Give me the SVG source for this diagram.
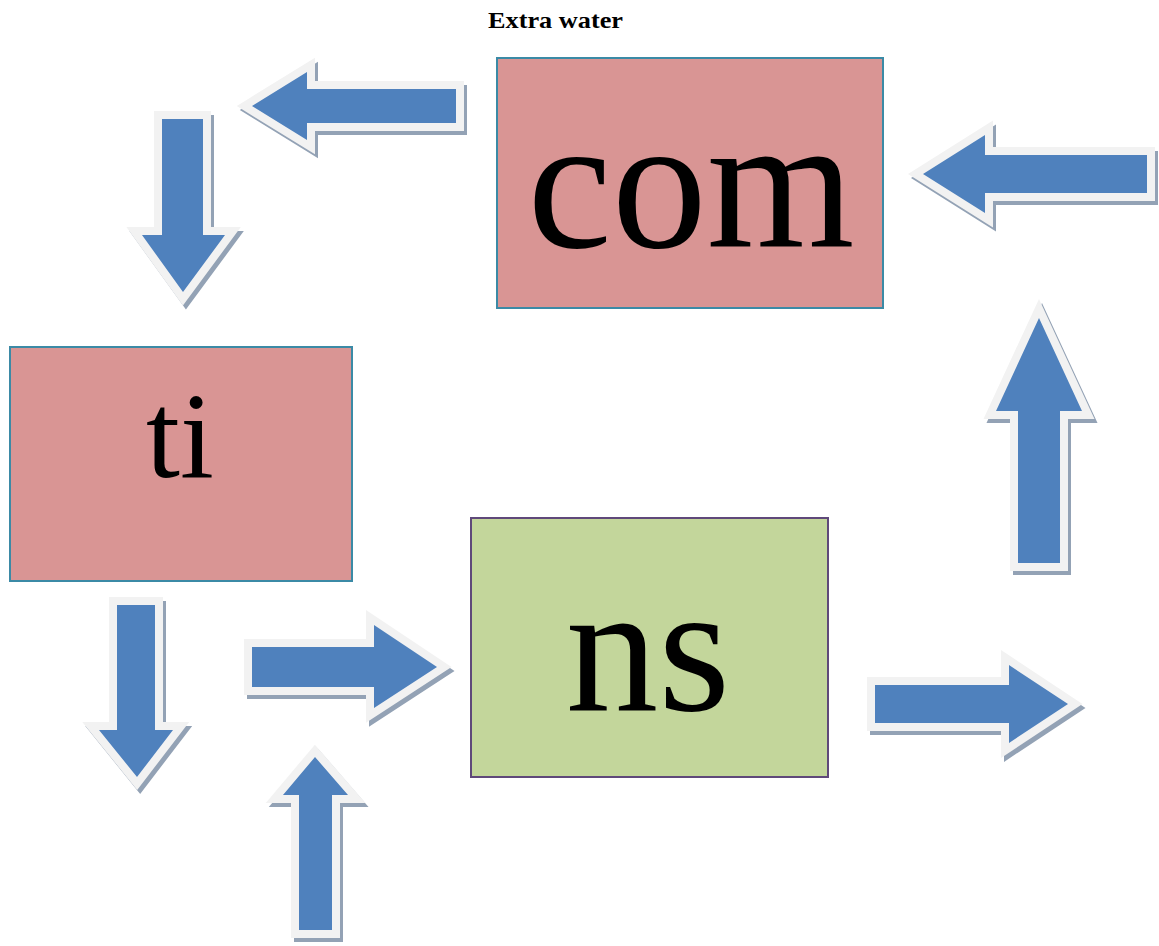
<svg xmlns="http://www.w3.org/2000/svg" width="1159" height="946" viewBox="0 0 1159 946">
<style>
.box-red{fill:#d99594;stroke:#3b8aa6;stroke-width:2}
.box-green{fill:#c3d69b;stroke:#5f497a;stroke-width:2}
.lbl{font-family:"Liberation Serif","Times New Roman",serif;fill:#000;text-anchor:middle}
.title{font-family:"Liberation Serif","Times New Roman",serif;font-weight:bold;font-size:23px;fill:#000}
.arr{fill:#4f81bd;stroke:#f2f2f2;stroke-width:16;paint-order:stroke;stroke-linejoin:miter;stroke-miterlimit:4}
.shd{fill:#93a2b5;stroke:#93a2b5;stroke-width:16;stroke-linejoin:miter;stroke-miterlimit:4}
</style>
<rect width="1159" height="946" fill="#fff"/>
<text class="title" x="488" y="28" textLength="135" lengthAdjust="spacingAndGlyphs">Extra water</text>
<g id="connectors">
  <g id="a1">
    <polygon class="shd" transform="translate(3,4)" points="252,106 307,72 307,89 456,89 456,123 307,123 307,140"/>
    <polygon class="arr" points="252,106 307,72 307,89 456,89 456,123 307,123 307,140"/>
  </g>
  <g id="a2">
    <polygon class="shd" transform="translate(3,4)" points="162,119 203,119 203,235 225,235 183,292 142,235 162,235"/>
    <polygon class="arr" points="162,119 203,119 203,235 225,235 183,292 142,235 162,235"/>
  </g>
  <g id="a3">
    <polygon class="shd" transform="translate(3,4)" points="923,174 985,135 985,155 1147,155 1147,193 985,193 985,213"/>
    <polygon class="arr" points="923,174 985,135 985,155 1147,155 1147,193 985,193 985,213"/>
  </g>
  <g id="a4">
    <polygon class="shd" transform="translate(3,4)" points="875,685 1009,685 1009,665 1068,704 1009,743 1009,723 875,723"/>
    <polygon class="arr" points="875,685 1009,685 1009,665 1068,704 1009,743 1009,723 875,723"/>
  </g>
  <g id="a5">
    <polygon class="shd" transform="translate(3,4)" points="315,757 348,795 332,795 332,930 299,930 299,795 283,795"/>
    <polygon class="arr" points="315,757 348,795 332,795 332,930 299,930 299,795 283,795"/>
  </g>
  <g id="a6">
    <polygon class="shd" transform="translate(3,4)" points="117,605 155,605 155,730 173,730 137,777 99,730 117,730"/>
    <polygon class="arr" points="117,605 155,605 155,730 173,730 137,777 99,730 117,730"/>
  </g>
  <g id="a7">
    <polygon class="shd" transform="translate(3,4)" points="252,647 374,647 374,625 437,667 374,708 374,687 252,687"/>
    <polygon class="arr" points="252,647 374,647 374,625 437,667 374,708 374,687 252,687"/>
  </g>
  <g id="a8">
    <polygon class="shd" transform="translate(3,4)" points="1039,318 1082,411 1060,411 1060,563 1018,563 1018,411 996,411"/>
    <polygon class="arr" points="1039,318 1082,411 1060,411 1060,563 1018,563 1018,411 996,411"/>
  </g>
</g>
<g id="node-com">
  <rect class="box-red" x="497" y="58" width="386" height="250"/>
  <text class="lbl" x="691" y="247" font-size="190">com</text>
</g>
<g id="node-ti">
  <rect class="box-red" x="10" y="347" width="342" height="234"/>
  <text class="lbl" x="180" y="477" font-size="122">ti</text>
</g>
<g id="node-ns">
  <rect class="box-green" x="471" y="518" width="357" height="259"/>
  <text class="lbl" x="648" y="710" font-size="185">ns</text>
</g>
</svg>
